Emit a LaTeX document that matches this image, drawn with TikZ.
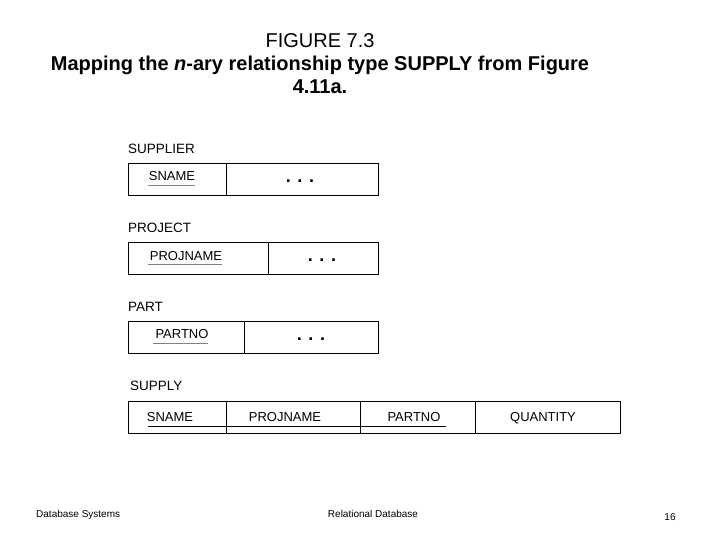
\documentclass[tikz,border=0pt]{standalone}
\usepackage{fontspec}
\setmainfont{Liberation Sans}
\begin{document}
\begin{tikzpicture}[x=1pt,y=-1pt,
  rel/.style={draw,line width=0.8pt},
  lbl/.style={anchor=west,inner sep=0,font=\fontsize{13.5}{15}\selectfont},
  att/.style={inner sep=0,text height=9pt,text depth=0pt,font=\fontsize{13}{15}\selectfont},
  dots/.style={inner sep=0,font=\fontsize{18}{18}\selectfont\bfseries}]
\useasboundingbox (0,0) rectangle (717,538);
\node[align=center,font=\fontsize{20}{23}\selectfont] (title) at (320,64) {FIGURE 7.3\\\textbf{Mapping the \textit{n}-ary relationship type SUPPLY from Figure}\\\textbf{4.11a.}};
% SUPPLIER
\node[lbl] (l1) at (128,149) {SUPPLIER};
\draw[rel] (128,163) rectangle (378,195); \draw[rel] (226,163) -- (226,195);
\node[att] (a1) at (172,176) {SNAME};
\draw[gray] (148,185) -- (195,185);
\node[dots] (d1) at (300,181) {. . .};
% PROJECT
\node[lbl] (l2) at (128,228) {PROJECT};
\draw[rel] (128,242) rectangle (378,274); \draw[rel] (268,242) -- (268,274);
\node[att] (a2) at (186,256) {PROJNAME};
\draw[gray] (148,264) -- (222,264);
\node[dots] (d2) at (322,260) {. . .};
% PART
\node[lbl] (l3) at (128,307) {PART};
\draw[rel] (128,321) rectangle (378,353); \draw[rel] (244,321) -- (244,353);
\node[att] (a3) at (182,334) {PARTNO};
\draw[gray] (153,343) -- (208,343);
\node[dots] (d3) at (311,339) {. . .};
% SUPPLY
\node[lbl] (l4) at (130,386) {SUPPLY};
\draw[rel] (128,401) rectangle (620,433);
\foreach \x in {226,360,475} \draw[rel] (\x,401) -- (\x,433);
\node[att] (s1) at (170,417) {SNAME};
\node[att] (s2) at (285,417) {PROJNAME};
\node[att] (s3) at (414,417) {PARTNO};
\node[att] (s4) at (543,417) {QUANTITY};
\draw (148,426) -- (446,426);
% footer
\node[anchor=west,inner sep=0,font=\fontsize{10}{12}\selectfont] (f1) at (36,515) {Database Systems};
\node[inner sep=0,font=\fontsize{10}{12}\selectfont] (f2) at (373,514) {Relational Database};
\node[inner sep=0,font=\fontsize{10}{12}\selectfont] (f3) at (670,517) {16};
\end{tikzpicture}
\end{document}
